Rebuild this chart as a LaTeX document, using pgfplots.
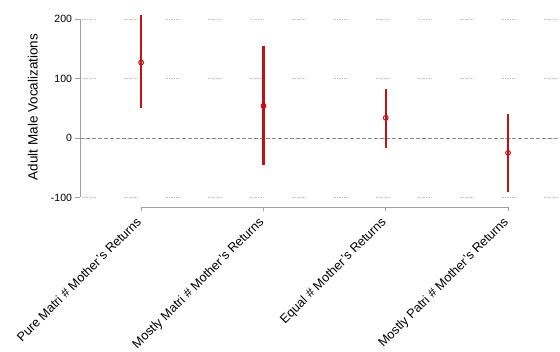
\documentclass[border=0pt]{standalone}
\usepackage{fontspec}
\setmainfont{Liberation Sans}
\usepackage{pgfplots}
\pgfplotsset{compat=1.18}

\definecolor{estred}{RGB}{195,16,20}
\definecolor{axisgray}{RGB}{160,160,160}
\definecolor{gridgray}{RGB}{195,195,195}
\definecolor{zerogray}{RGB}{135,135,135}

\begin{document}
\begin{tikzpicture}
\begin{axis}[
  scale only axis,
  width=477pt, height=195pt,
  xmin=-0.5, xmax=3.4,
  ymin=-116, ymax=212,
  axis x line*=bottom, axis y line*=left,
  axis line style={draw=none},
  xtick={0,1,2,3},
  xticklabels={Pure Matri \# Mother's Returns,Mostly Matri \# Mother's Returns,Equal \# Mother's Returns,Mostly Patri \# Mother's Returns},
  x tick label style={rotate=45, anchor=north east, font=\fontsize{12.7}{15}\selectfont, inner sep=1pt, xshift=-6pt, yshift=2pt},
  ytick={-100,0,100,200},
  y tick label style={font=\fontsize{10.5}{12}\selectfont},
  /pgf/number format/assume math mode=true,
  tick align=outside,
  major tick length=4.5pt,
  tick style={axisgray, line width=0.6pt},
  ymajorgrids,
  major grid style={gridgray, line width=0.6pt,
    dash pattern=on 1.5pt off 1pt on 1.5pt off 1pt on 1.5pt off 1pt on 1.5pt off 1pt on 1.5pt off 1pt on 1.5pt off 28pt,
    dash phase=-2pt},
  ylabel={Adult Male Vocalizations},
  ylabel style={at={(axis description cs:-0.099,0.513)}, anchor=center, font=\fontsize{13.5}{15}\selectfont},
  clip=false,
]
% axis lines, Stata style: drawn only over the labelled ranges
\draw[axisgray, line width=0.7pt] (axis cs:0,-116) -- (axis cs:3,-116);
\draw[axisgray, line width=0.7pt] (axis cs:-0.5,-100) -- (axis cs:-0.5,200);
% reference line at zero
\draw[zerogray, line width=0.7pt, dash pattern=on 4pt off 2pt] (axis cs:-0.5,0) -- (axis cs:3.4,0);

% point estimates with 95% confidence intervals
\addplot[
  estred,
  only marks, mark=o, mark size=2.4pt,
  mark options={estred, line width=1pt, fill=white},
  error bars/.cd, y dir=both, y explicit,
  error mark=none,
  error bar style={estred, line width=2.2pt},
] coordinates {
  (0,127) += (0,80) -= (0,77)
  (1,54)  += (0,101) -= (0,100)
  (2,34)  += (0,49) -= (0,50)
  (3,-25) += (0,66) -= (0,66)
};
\end{axis}
\pgfresetboundingbox
\path[use as bounding box] (-80pt,-145pt) rectangle (480pt,207pt);
\end{tikzpicture}
\end{document}
